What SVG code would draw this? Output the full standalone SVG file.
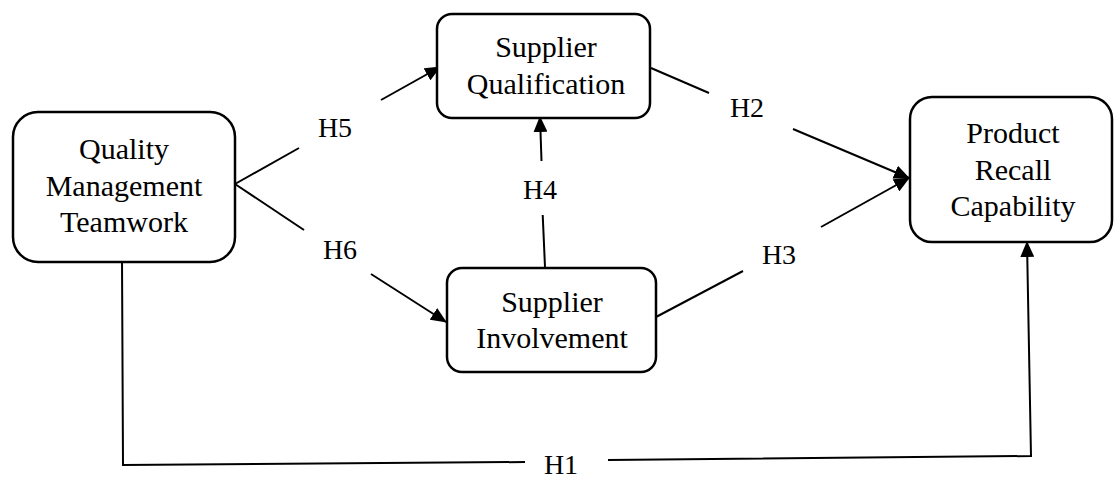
<svg xmlns="http://www.w3.org/2000/svg" width="1114" height="480" viewBox="0 0 1114 480">
<style>
.node{fill:#fff;stroke:#000;stroke-width:2.5}
.lbl{font-family:"Liberation Serif","Times New Roman",serif;font-size:30px;fill:#000;text-anchor:middle}
.hl{font-family:"Liberation Serif","Times New Roman",serif;font-size:28px;fill:#000;text-anchor:middle}
.c{fill:none;stroke:#000;stroke-width:2}
</style>
<defs>
<marker id="ah" markerUnits="userSpaceOnUse" markerWidth="16" markerHeight="14" viewBox="0 0 16 14" refX="15" refY="7" orient="auto">
<path d="M0,0 L16,7 L0,14 Z" fill="#000"/>
</marker>
</defs>
<rect width="1114" height="480" fill="#fff"/>
<g id="connectors">
<line class="c" x1="235" y1="184" x2="299" y2="148"/>
<line class="c" x1="381" y1="100" x2="440" y2="67" marker-end="url(#ah)"/>
<text class="hl" x="335" y="137">H5</text>
<line class="c" x1="235" y1="184" x2="304" y2="230"/>
<line class="c" x1="371" y1="274" x2="446" y2="322" marker-end="url(#ah)"/>
<text class="hl" x="340" y="259">H6</text>
<line class="c" x1="545" y1="267" x2="542.7" y2="215"/>
<line class="c" x1="541.5" y1="161" x2="540" y2="117" marker-end="url(#ah)"/>
<text class="hl" x="540" y="199">H4</text>
<line class="c" x1="651" y1="68" x2="709" y2="93"/>
<line class="c" x1="793" y1="129" x2="909" y2="178" marker-end="url(#ah)"/>
<text class="hl" x="747" y="117">H2</text>
<line class="c" x1="656" y1="317" x2="743" y2="271"/>
<line class="c" x1="821" y1="227" x2="909" y2="178" marker-end="url(#ah)"/>
<text class="hl" x="779" y="264">H3</text>
<polyline class="c" points="122,259 123,465 525,462"/>
<polyline class="c" points="608,460 1031,456 1027,242" marker-end="url(#ah)"/>
<text class="hl" x="561" y="474">H1</text>
</g>
<g id="qmt">
<rect class="node" x="13" y="112" width="222" height="150" rx="25"/>
<text class="lbl" x="124" y="159">Quality</text>
<text class="lbl" x="124" y="196">Management</text>
<text class="lbl" x="124" y="232">Teamwork</text>
</g>
<g id="sq">
<rect class="node" x="437" y="14" width="213" height="104" rx="15"/>
<text class="lbl" x="546" y="57">Supplier</text>
<text class="lbl" x="546" y="94">Qualification</text>
</g>
<g id="si">
<rect class="node" x="447" y="268" width="209" height="104" rx="15"/>
<text class="lbl" x="552" y="312">Supplier</text>
<text class="lbl" x="552" y="348">Involvement</text>
</g>
<g id="prc">
<rect class="node" x="910" y="97" width="202" height="145" rx="22"/>
<text class="lbl" x="1013" y="143">Product</text>
<text class="lbl" x="1013" y="180">Recall</text>
<text class="lbl" x="1013" y="216">Capability</text>
</g>
</svg>
